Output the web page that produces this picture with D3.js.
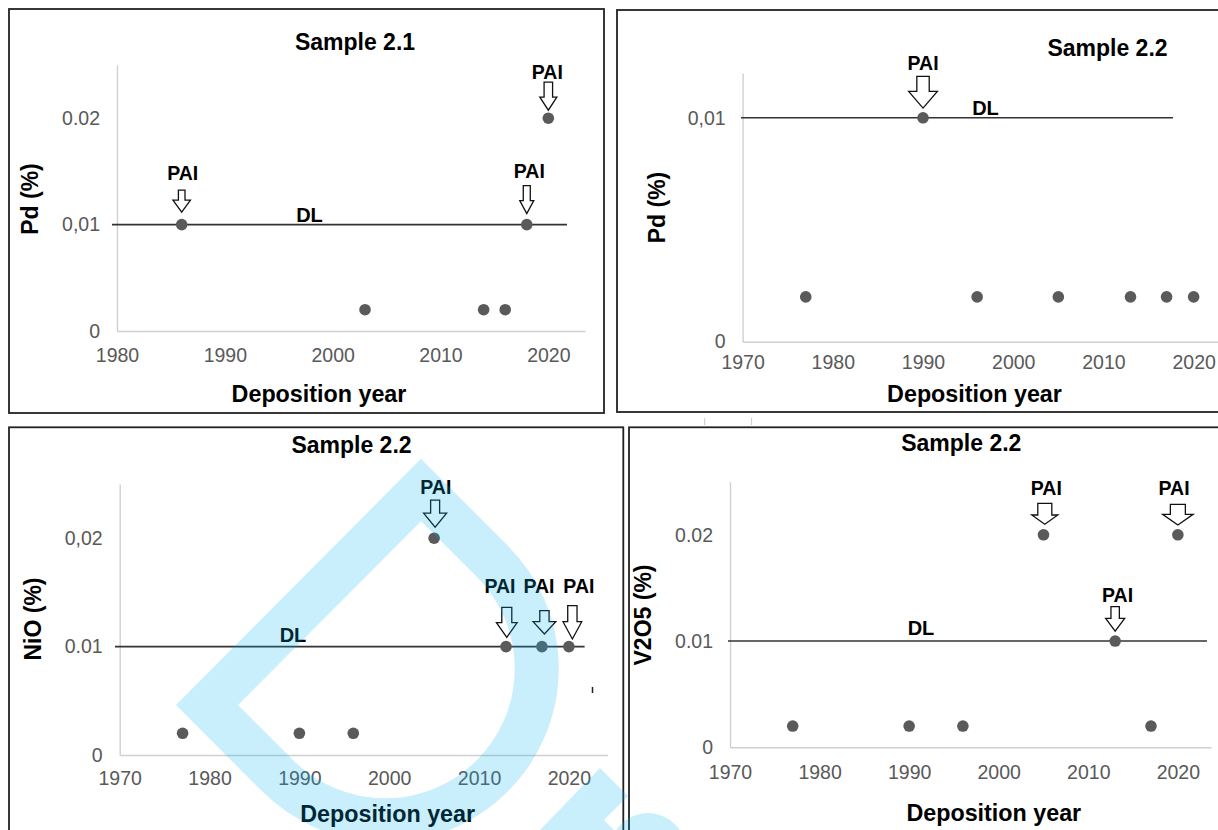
<!DOCTYPE html>
<html><head><meta charset="utf-8">
<script src="https://cdn.jsdelivr.net/npm/d3@7"></script>
<style>
html,body{margin:0;padding:0;background:#fff;}
svg{display:block;}
</style></head><body>
<svg id="c" width="1218" height="830"></svg>
<script>
// ================= DATA =================
const titles = ["Sample 2.1", "Sample 2.2", "Sample 2.2", "Sample 2.2"];
const yLabels = ["Pd (%)", "Pd (%)", "NiO (%)", "V2O5 (%)"];
const xLabel = "Deposition year";
const dlLabel = "DL";
const paiLabel = "PAI";
const detectionLimit = 0.01;

// Panel 1 : Pd, Sample 2.1
const p1Years = [1986, 2003, 2014, 2016, 2018, 2020];
const p1Values = [0.01, 0.002, 0.002, 0.002, 0.01, 0.02];
const p1PAI = [1986, 2018, 2020];
const p1XTicks = [1980, 1990, 2000, 2010, 2020];
const p1YTicks = [0, 0.01, 0.02];
const p1YTickLabels = ["0", "0,01", "0.02"];

// Panel 2 : Pd, Sample 2.2
const p2Years = [1977, 1990, 1996, 2005, 2013, 2017, 2020];
const p2Values = [0.002, 0.01, 0.002, 0.002, 0.002, 0.002, 0.002];
const p2PAI = [1990];
const p2XTicks = [1970, 1980, 1990, 2000, 2010, 2020];
const p2YTicks = [0, 0.01];
const p2YTickLabels = ["0", "0,01"];

// Panel 3 : NiO, Sample 2.2
const p3Years = [1977, 1990, 1996, 2005, 2013, 2017, 2020];
const p3Values = [0.002, 0.002, 0.002, 0.02, 0.01, 0.01, 0.01];
const p3PAI = [2005, 2013, 2017, 2020];
const p3XTicks = [1970, 1980, 1990, 2000, 2010, 2020];
const p3YTicks = [0, 0.01, 0.02];
const p3YTickLabels = ["0", "0.01", "0,02"];

// Panel 4 : V2O5, Sample 2.2
const p4Years = [1977, 1990, 1996, 2005, 2013, 2017, 2020];
const p4Values = [0.002, 0.002, 0.002, 0.02, 0.01, 0.002, 0.02];
const p4PAI = [2005, 2013, 2020];
const p4XTicks = [1970, 1980, 1990, 2000, 2010, 2020];
const p4YTicks = [0, 0.01, 0.02];
const p4YTickLabels = ["0", "0.01", "0.02"];

// ================= LAYOUT / STYLE =================
const panels = [
  { years: p1Years, values: p1Values, pai: p1PAI, xTicks: p1XTicks, yTicks: p1YTicks, yTickLabels: p1YTickLabels,
    box: [9, 9, 604, 413], xDomain: [1980, 2023.4], xRange: [117, 585], yDomain: [0, 0.025], yRange: [331, 65],
    dlRange: [112, 567], xPad: 17, title: [355, 50], xl: [319, 402], yl: [38, 199], dl: [309.5, 221.7],
    arrows: [ {sw:6.6,hw:17.5,sl:10,hl:12,gap:12.5,adx:0,ldx:1,ldy:-44.5},
              {sw:7,hw:14,sl:15,hl:13,gap:11,adx:0,ldx:2.5,ldy:-46.5},
              {sw:8.5,hw:17,sl:15,hl:13,gap:8,adx:0,ldx:-1,ldy:-39} ] },
  { years: p2Years, values: p2Values, pai: p2PAI, xTicks: p2XTicks, yTicks: p2YTicks, yTickLabels: p2YTickLabels,
    box: [617, 10, 1240, 412], xDomain: [1970, 2022.7], xRange: [742.6, 1218], yDomain: [0, 0.012], yRange: [341.7, 73],
    dlRange: [741, 1173], xPad: 13, title: [1107.5, 56], xl: [974.5, 402], yl: [665, 207.5], dl: [985.5, 115],
    arrows: [ {sw:12.4,hw:28.7,sl:15,hl:16.7,gap:9.7,adx:0,ldx:0,ldy:-47.7} ] },
  { years: p3Years, values: p3Values, pai: p3PAI, xTicks: p3XTicks, yTicks: p3YTicks, yTickLabels: p3YTickLabels,
    box: [9, 427.3, 623.3, 850], xDomain: [1970, 2024.3], xRange: [119.7, 607.5], yDomain: [0, 0.025], yRange: [755, 484],
    dlRange: [115, 584.6], xPad: 16.3, title: [351.5, 452.7], xl: [387.7, 822], yl: [41, 619], dl: [293, 641.7],
    arrows: [ {sw:9,hw:23,sl:13,hl:14,gap:11,adx:1,ldx:1.7,ldy:-44},
              {sw:10,hw:20.7,sl:15.3,hl:14.7,gap:9.3,adx:0.8,ldx:-6,ldy:-53.3},
              {sw:9.3,hw:22.7,sl:11,hl:12.3,gap:12.6,adx:2.5,ldx:-3,ldy:-53.3},
              {sw:9.3,hw:18.7,sl:16,hl:17.3,gap:7.6,adx:3.5,ldx:10,ldy:-53.3} ] },
  { years: p4Years, values: p4Values, pai: p4PAI, xTicks: p4XTicks, yTicks: p4YTicks, yTickLabels: p4YTickLabels,
    box: [629, 427.3, 1240, 850], xDomain: [1970, 2023.7], xRange: [730, 1211], yDomain: [0, 0.025], yRange: [747.3, 481.7],
    dlRange: [728, 1207], xPad: 17.4, title: [961.3, 451], xl: [993.8, 821], yl: [651, 615], dl: [921, 635],
    arrows: [ {sw:14,hw:26,sl:11.7,hl:9.3,gap:10.5,adx:1.3,ldx:2.8,ldy:-39.8},
              {sw:8.4,hw:19,sl:11.7,hl:12.7,gap:10,adx:0,ldx:2.4,ldy:-39.4},
              {sw:15,hw:30.5,sl:10,hl:10.7,gap:9.8,adx:0,ldx:-3.8,ldy:-39.8} ] }
];

const BOLD = "'Liberation Sans', Arial, Helvetica, sans-serif";
const TICKFONT = "'Liberation Sans', Arial, sans-serif";

const svg = d3.select("#c");

panels.forEach((p, i) => {
  const g = svg.append("g");
  // panel border
  g.append("rect")
    .attr("x", p.box[0]).attr("y", p.box[1])
    .attr("width", p.box[2] - p.box[0]).attr("height", p.box[3] - p.box[1])
    .attr("fill", "none").attr("stroke", "#222").attr("stroke-width", 1.8);

  const x = d3.scaleLinear().domain(p.xDomain).range(p.xRange);
  const y = d3.scaleLinear().domain(p.yDomain).range(p.yRange);

  // axes
  const xAxis = d3.axisBottom(x).tickValues(p.xTicks).tickFormat(d3.format("d"))
    .tickSize(0).tickSizeOuter(0).tickPadding(p.xPad);
  const yAxis = d3.axisLeft(y).tickValues(p.yTicks).tickFormat((d, k) => p.yTickLabels[k])
    .tickSize(0).tickSizeOuter(0).tickPadding(17);

  const gx = g.append("g").attr("transform", `translate(0,${p.yRange[0]})`).call(xAxis);
  const gy = g.append("g").attr("transform", `translate(${p.xRange[0]},0)`).call(yAxis);
  [gx, gy].forEach(ax => {
    ax.select(".domain").attr("stroke", "#d0d0d0").attr("stroke-width", 1.4);
    ax.selectAll("text").attr("fill", "#595959")
      .attr("font-family", TICKFONT).attr("font-size", 19.5);
  });

  // detection limit line
  g.append("line")
    .attr("x1", p.dlRange[0]).attr("x2", p.dlRange[1])
    .attr("y1", y(detectionLimit)).attr("y2", y(detectionLimit))
    .attr("stroke", "#333").attr("stroke-width", 1.6);
  g.append("text").attr("x", p.dl[0]).attr("y", p.dl[1]).attr("text-anchor", "middle")
    .attr("font-family", BOLD).attr("font-weight", "bold").attr("font-size", 20).attr("fill", "#000")
    .text(dlLabel);

  // points
  g.append("g").selectAll("circle").data(p.years.map((yr, k) => ({ yr, v: p.values[k] })))
    .join("circle")
    .attr("cx", d => x(d.yr)).attr("cy", d => y(d.v)).attr("r", 5.8)
    .attr("fill", "#5a5a5a");

  // PAI annotations
  p.pai.forEach((yr, k) => {
    const v = p.values[p.years.indexOf(yr)];
    const a = p.arrows[k];
    const cx = x(yr) + a.adx;
    const tip = y(v) - a.gap;
    const pts = [
      [cx - a.sw / 2, tip - a.hl - a.sl], [cx + a.sw / 2, tip - a.hl - a.sl],
      [cx + a.sw / 2, tip - a.hl], [cx + a.hw / 2, tip - a.hl], [cx, tip],
      [cx - a.hw / 2, tip - a.hl], [cx - a.sw / 2, tip - a.hl]
    ];
    g.append("polygon").attr("points", pts.map(q => q.join(",")).join(" "))
      .attr("fill", "#fff").attr("stroke", "#111").attr("stroke-width", 1.3)
      .attr("stroke-linejoin", "miter");
    g.append("text").attr("x", x(yr) + a.ldx).attr("y", y(v) + a.ldy).attr("text-anchor", "middle")
      .attr("font-family", BOLD).attr("font-weight", "bold").attr("font-size", 19.5).attr("fill", "#000")
      .text(paiLabel);
  });

  // titles and axis labels
  g.append("text").attr("x", p.title[0]).attr("y", p.title[1]).attr("text-anchor", "middle")
    .attr("font-family", BOLD).attr("font-weight", "bold").attr("font-size", 23).attr("fill", "#000")
    .text(titles[i]);
  g.append("text").attr("x", p.xl[0]).attr("y", p.xl[1]).attr("text-anchor", "middle")
    .attr("font-family", BOLD).attr("font-weight", "bold").attr("font-size", 23.3).attr("fill", "#000")
    .text(xLabel);
  g.append("text").attr("transform", `translate(${p.yl[0]},${p.yl[1]}) rotate(-90)`).attr("text-anchor", "middle")
    .attr("font-family", BOLD).attr("font-weight", "bold").attr("font-size", 23).attr("fill", "#000")
    .text(yLabels[i]);
});

// small stray marks present in the source figure
svg.append("line").attr("x1", 704.7).attr("x2", 704.7).attr("y1", 418).attr("y2", 425).attr("stroke", "#c8c8c8").attr("stroke-width", 1);
svg.append("line").attr("x1", 751.6).attr("x2", 751.6).attr("y1", 418).attr("y2", 425).attr("stroke", "#c8c8c8").attr("stroke-width", 1);
svg.append("line").attr("x1", 592.5).attr("x2", 592.5).attr("y1", 687).attr("y2", 693).attr("stroke", "#222").attr("stroke-width", 1.5);

// translucent watermark overlay
const wm = svg.append("g").attr("pointer-events", "none");
const WM = "rgba(0,174,239,0.21)";
wm.append("path")
  .attr("d", "M207,705 L421,490 L492.3,561.3 A151.7,151.7 0 1 1 277.7,775.8 Z")
  .attr("fill", "none").attr("stroke", WM).attr("stroke-width", 44).attr("stroke-linejoin", "miter").attr("stroke-miterlimit", 10);
wm.append("polygon").attr("points", "600,768 628,796 604,820 614,830 540,830")
  .attr("fill", WM);
wm.append("circle").attr("cx", 648).attr("cy", 851).attr("r", 38).attr("fill", WM);
</script>
</body></html>
